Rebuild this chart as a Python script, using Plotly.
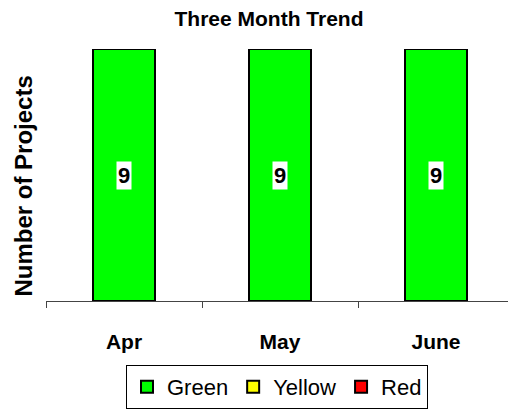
import plotly.graph_objects as go

MONTHS = ['Apr', 'May', 'June']
GREEN = [9, 9, 9]
YELLOW = [0, 0, 0]
RED = [0, 0, 0]

FONT = 'Arial, Liberation Sans, sans-serif'

fig = go.Figure()
for name, vals, col in [('Green', GREEN, '#00ff00'),
                        ('Yellow', YELLOW, '#ffff00'),
                        ('Red', RED, '#ff0000')]:
    fig.add_trace(go.Bar(x=MONTHS, y=vals, name=name, width=0.4,
                         marker=dict(color=col, line=dict(color='black', width=2))))

# value labels in white boxes at the middle of each green bar
for m, v in zip(MONTHS, GREEN):
    fig.add_annotation(x=m, y=v / 2, text='<b>%d</b>' % v, showarrow=False,
                       bgcolor='white', borderpad=1,
                       font=dict(family=FONT, size=22, color='black'))

fig.add_annotation(xref='paper', yref='paper', x=-22 / 462, y=0.454,
                   xanchor='center', yanchor='middle',
                   text='<b>Number of Projects</b>', textangle=-90, showarrow=False,
                   font=dict(family=FONT, size=24, color='black'))

fig.update_layout(
    width=508, height=409,
    margin=dict(l=46, r=0, t=49, b=101),
    paper_bgcolor='white', plot_bgcolor='white',
    barmode='stack',
    showlegend=True,
    title=dict(text='<b>Three Month Trend</b>', x=269 / 508, xanchor='center',
               y=1 - 19 / 409, yanchor='middle',
               font=dict(family=FONT, size=21, color='black')),
    font=dict(family=FONT, color='black'),
    xaxis=dict(range=[-0.5, -0.5 + 462 / 156], showline=True, linecolor='#444',
               linewidth=1, ticks='outside', ticklen=6, tickcolor='#444',
               tickson='boundaries', ticklabelstandoff=22,
               tickfont=dict(family=FONT, size=21, color='black'),
               tickprefix='<b>', ticksuffix='</b>', showgrid=False),
    yaxis=dict(range=[0, 9], visible=False),
    legend=dict(orientation='h', x=0.5, xanchor='center', y=-66 / 259, yanchor='top',
                bordercolor='black', borderwidth=1, bgcolor='white',
                traceorder='normal',
                font=dict(family=FONT, size=22, color='black'),
                itemwidth=30, tracegroupgap=0),
)

fig.write_html('out.html', config={'displayModeBar': False},
               post_script="document.body.style.margin='0';")
